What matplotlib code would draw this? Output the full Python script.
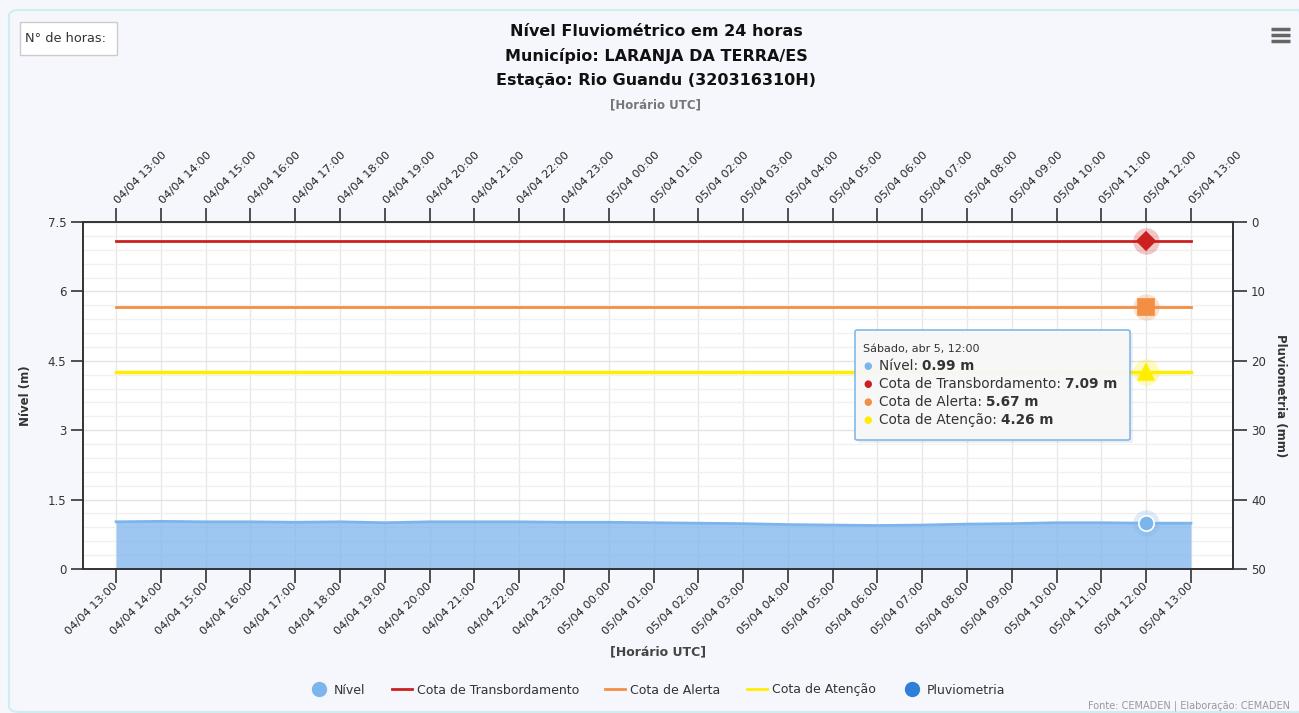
import matplotlib
matplotlib.use("Agg")
import matplotlib.pyplot as plt
from matplotlib.lines import Line2D
from matplotlib.patches import FancyBboxPatch, Rectangle
from matplotlib.text import Annotation
import numpy as np

plt.rcParams['font.family'] = ['DejaVu Sans']

# ---------------- data ----------------
hour_labels = ["04/04 13:00", "04/04 14:00", "04/04 15:00", "04/04 16:00", "04/04 17:00",
               "04/04 18:00", "04/04 19:00", "04/04 20:00", "04/04 21:00", "04/04 22:00",
               "04/04 23:00", "05/04 00:00", "05/04 01:00", "05/04 02:00", "05/04 03:00",
               "05/04 04:00", "05/04 05:00", "05/04 06:00", "05/04 07:00", "05/04 08:00",
               "05/04 09:00", "05/04 10:00", "05/04 11:00", "05/04 12:00", "05/04 13:00"]
nivel = [1.02, 1.03, 1.02, 1.02, 1.01, 1.02, 1.00, 1.02, 1.02, 1.02, 1.01, 1.01, 1.00,
         0.99, 0.98, 0.96, 0.95, 0.94, 0.95, 0.97, 0.98, 1.00, 1.00, 0.99, 0.99]
cota_transbordamento = 7.09
cota_alerta = 5.67
cota_atencao = 4.26
highlight_index = 23
left_ticks = [0, 1.5, 3, 4.5, 6, 7.5]
right_ticks = [0, 10, 20, 30, 40, 50]

# ---------------- figure ----------------
W, H = 1299, 713
fig = plt.figure(figsize=(W / 100, H / 100), dpi=100)
fig.patch.set_facecolor('#f6f6fd')

def fx(px):
    return px / W

def fy(py):
    return 1 - py / H

# outer container border
fig.add_artist(FancyBboxPatch((fx(9), fy(712)), fx(1299 - 9 + 10), fy(10) - fy(712),
                              boxstyle="round,pad=0,rounding_size=0.008",
                              transform=fig.transFigure, facecolor='none',
                              edgecolor='#cfeef4', linewidth=1.5, zorder=0))

ax = fig.add_axes([fx(83), fy(569), fx(1233) - fx(83), fy(222) - fy(569)])
ax.set_facecolor('white')
x = np.arange(len(hour_labels))
ax.set_xlim(-0.74, len(hour_labels) - 1 + 0.94)
ax.set_ylim(0, 7.5)

# grid
ax.set_yticks(left_ticks)
ax.set_yticks(np.arange(0, 7.51, 0.3), minor=True)
ax.set_xticks(x)
ax.grid(axis='y', which='major', color='#e4e4e4', linewidth=1.0, zorder=0)
ax.grid(axis='y', which='minor', color='#f0f0f0', linewidth=1.0, zorder=0)
ax.grid(axis='x', which='major', color='#e8e8e8', linewidth=1.0, zorder=0)
ax.set_axisbelow(True)

# area
ax.fill_between(x, 0, nivel, color='#7cb5ec', alpha=0.75, linewidth=0, zorder=2)
ax.plot(x, nivel, color='#7cb5ec', linewidth=2, zorder=3)

# threshold lines
ax.plot(x, [cota_transbordamento] * len(x), color='#cc2020', linewidth=2, zorder=3)
ax.plot(x, [cota_alerta] * len(x), color='#f28f43', linewidth=2, zorder=3)
ax.plot(x, [cota_atencao] * len(x), color='#ffee00', linewidth=2.5, zorder=3)

# highlight markers with halos
hx = x[highlight_index]
for yv, col, mk, ms in [(cota_transbordamento, '#cc2020', 'D', 9),
                        (cota_alerta, '#f28f43', 's', 11),
                        (cota_atencao, '#ffee00', '^', 11),
                        (nivel[highlight_index], '#7cb5ec', 'o', 11)]:
    ax.plot([hx], [yv], marker='o', markersize=19, color=col, alpha=0.25,
            markeredgewidth=0, zorder=4)
    ax.plot([hx], [yv], marker=mk, markersize=ms, color=col,
            markeredgecolor='white' if mk == 'o' else col, markeredgewidth=1.2, zorder=5)

# spines / ticks
for s in ['left', 'bottom', 'top', 'right']:
    ax.spines[s].set_color('#333333')
    ax.spines[s].set_linewidth(1.2)
ax.tick_params(axis='y', which='major', direction='out', length=9, width=1.2,
               color='#333333', labelsize=8.5, labelcolor='#333333', pad=3)
ax.tick_params(axis='y', which='minor', length=0)
ax.set_yticklabels(['0', '1.5', '3', '4.5', '6', '7.5'])
ax.tick_params(axis='x', direction='out', length=10, width=1.2, color='#333333',
               labelsize=8.2, labelcolor='#222222', pad=1)
ax.set_xticklabels(hour_labels, rotation=45, ha='right', va='center', rotation_mode='anchor')

ax.set_ylabel('Nível (m)', fontsize=8.5, fontweight='bold', color='#333333')
ax.yaxis.set_label_coords((32 - 83) / 1150, 0.5)
ax.set_xlabel('[Horário UTC]', fontsize=9, fontweight='bold', color='#444444', va='center')
ax.xaxis.set_label_coords(0.5, -(652 - 569) / 347)

# top axis
axt = ax.secondary_xaxis('top')
axt.set_xticks(x)
axt.set_xticklabels(hour_labels, rotation=45, ha='left', va='center', rotation_mode='anchor')
axt.tick_params(direction='out', length=10, width=1.2, color='#333333', labelsize=8.2,
                labelcolor='#222222', pad=4)
axt.spines['top'].set_color('#333333')

# right axis
axr = ax.twinx()
axr.set_ylim(50, 0)
axr.set_yticks(right_ticks)
axr.tick_params(axis='y', direction='out', length=10, width=1.2, color='#333333',
                labelsize=8.5, labelcolor='#333333', pad=3)
for s in ['left', 'bottom', 'top', 'right']:
    axr.spines[s].set_color('#333333')
    axr.spines[s].set_linewidth(1.2)
axr.set_ylabel('Pluviometria (mm)', fontsize=8.5, fontweight='bold', color='#333333',
               rotation=-90, va='center')
axr.yaxis.set_label_coords((1281 - 83) / 1150, 0.5)

# titles
for i, t in enumerate(["Nível Fluviométrico em 24 horas", "Município: LARANJA DA TERRA/ES",
                       "Estação: Rio Guandu (320316310H)"]):
    fig.text(fx(656), fy(31 + 25 * i), t, ha='center', va='center', fontsize=11.5,
             fontweight='bold', color='#111111')
fig.text(fx(656), fy(105), '[Horário UTC]', ha='center', va='center', fontsize=8.5,
         fontweight='bold', color='#777777')

# "Nº de horas" box
fig.add_artist(Rectangle((fx(20), fy(55)), fx(117) - fx(20), fy(22) - fy(55),
                         transform=fig.transFigure, facecolor='white',
                         edgecolor='#cccccc', linewidth=1))
fig.text(fx(25), fy(38.5), 'N° de horas:', ha='left', va='center', fontsize=9.3,
         color='#333333')

# hamburger menu
for yy in [29, 35, 41]:
    fig.add_artist(Line2D([fx(1271), fx(1290)], [fy(yy), fy(yy)], transform=fig.transFigure,
                          color='#666666', linewidth=2.5, solid_capstyle='butt'))

# tooltip
fig.add_artist(FancyBboxPatch((fx(858), fy(443)), fx(1133) - fx(858), fy(333) - fy(443),
                              boxstyle="round,pad=0,rounding_size=0.002",
                              transform=fig.transFigure, facecolor='#999999', alpha=0.15,
                              edgecolor='none', zorder=10))
fig.add_artist(FancyBboxPatch((fx(855), fy(440)), fx(1130) - fx(855), fy(330) - fy(440),
                              boxstyle="round,pad=0,rounding_size=0.002",
                              transform=fig.transFigure, facecolor='#f8f8f8', alpha=0.95,
                              edgecolor='#7cb5ec', linewidth=1.2, zorder=11))
fig.text(fx(863), fy(349), 'Sábado, abr 5, 12:00', ha='left', va='center', fontsize=8,
         color='#333333', zorder=12)
tt_rows = [('#7cb5ec', 'Nível: ', '0.99 m'),
           ('#cc2020', 'Cota de Transbordamento: ', '7.09 m'),
           ('#f28f43', 'Cota de Alerta: ', '5.67 m'),
           ('#ffee00', 'Cota de Atenção: ', '4.26 m')]
for i, (col, lab, val) in enumerate(tt_rows):
    yy = 366 + 18 * i
    fig.text(fx(868), fy(yy), '●', ha='center', va='center', fontsize=7, color=col, zorder=12)
    t1 = fig.text(fx(879), fy(yy), lab, ha='left', va='center', fontsize=9.8,
                  color='#333333', zorder=12)
    fig.add_artist(Annotation(val, xy=(1, 0.5), xycoords=t1,
                              ha='left', va='center', fontsize=9.8,
                              fontweight='bold', color='#333333', zorder=12))

# legend
handles = [Line2D([], [], marker='o', linestyle='none', markersize=10, color='#7cb5ec'),
           Line2D([], [], color='#cc2020', linewidth=2),
           Line2D([], [], color='#f28f43', linewidth=2),
           Line2D([], [], color='#ffee00', linewidth=2),
           Line2D([], [], marker='o', linestyle='none', markersize=10, color='#2f7ed8')]
labels = ['Nível', 'Cota de Transbordamento', 'Cota de Alerta', 'Cota de Atenção', 'Pluviometria']
fig.legend(handles, labels, loc='center', bbox_to_anchor=(fx(657), fy(690)), ncol=5,
           frameon=False, fontsize=9, handlelength=1.6, handletextpad=0.4,
           columnspacing=2.1, labelcolor='#333333')

fig.text(fx(1290), fy(706), 'Fonte: CEMADEN | Elaboração: CEMADEN', ha='right', va='center',
         fontsize=7, color='#999999')

fig.savefig('out.png', dpi=100, facecolor=fig.get_facecolor())
